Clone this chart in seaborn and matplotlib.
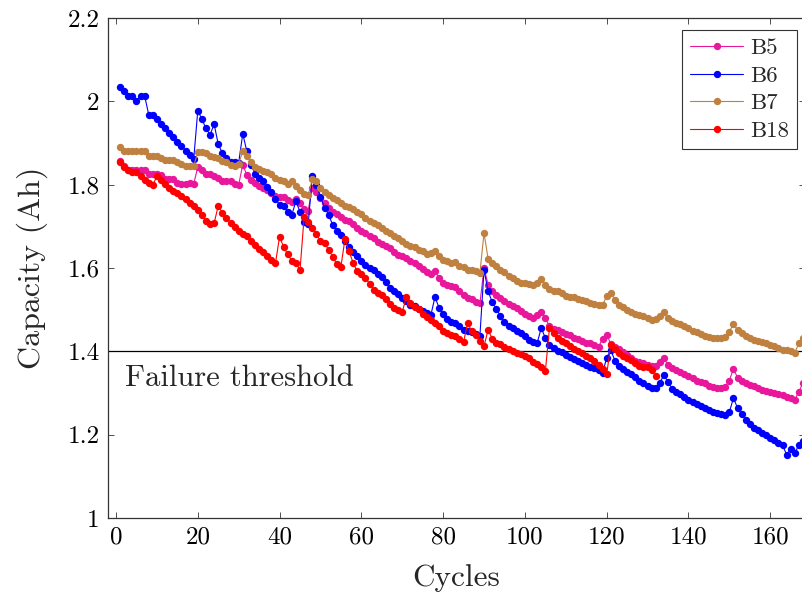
import numpy as np
import pandas as pd
import matplotlib
matplotlib.use("Agg")
import matplotlib.pyplot as plt
from matplotlib.ticker import FuncFormatter, FixedLocator
import seaborn as sns

# ---------------- data ----------------
b5 = [1.856, 1.846, 1.835, 1.835, 1.835, 1.835, 1.835, 1.825, 1.825, 1.825,
      1.824, 1.814, 1.814, 1.813, 1.803, 1.802, 1.802, 1.803, 1.802, 1.842,
      1.836, 1.825, 1.825, 1.820, 1.815, 1.810, 1.810, 1.808, 1.802, 1.800,
      1.848, 1.823, 1.812, 1.804, 1.797, 1.792, 1.788, 1.780, 1.773, 1.770,
      1.770, 1.763, 1.758, 1.765, 1.755, 1.742, 1.738, 1.792, 1.782, 1.768,
      1.756, 1.745, 1.734, 1.730, 1.722, 1.715, 1.712, 1.705, 1.697, 1.690,
      1.683, 1.676, 1.672, 1.663, 1.658, 1.652, 1.647, 1.639, 1.632, 1.629,
      1.623, 1.617, 1.611, 1.604, 1.597, 1.590, 1.585, 1.593, 1.576, 1.565,
      1.560, 1.557, 1.555, 1.546, 1.535, 1.529, 1.525, 1.518, 1.515, 1.600,
      1.560, 1.545, 1.535, 1.528, 1.520, 1.513, 1.508, 1.503, 1.497, 1.490,
      1.484, 1.480, 1.487, 1.494, 1.480, 1.460, 1.453, 1.452, 1.447, 1.442,
      1.439, 1.433, 1.430, 1.425, 1.421, 1.419, 1.415, 1.411, 1.430, 1.440,
      1.418, 1.410, 1.405, 1.398, 1.392, 1.385, 1.378, 1.374, 1.372, 1.368,
      1.364, 1.365, 1.374, 1.384, 1.367, 1.360, 1.355, 1.350, 1.345, 1.340,
      1.336, 1.330, 1.326, 1.323, 1.318, 1.315, 1.312, 1.312, 1.315, 1.330,
      1.358, 1.337, 1.328, 1.323, 1.320, 1.316, 1.312, 1.308, 1.305, 1.303,
      1.300, 1.298, 1.295, 1.291, 1.289, 1.284, 1.303, 1.324]

b6 = [2.035, 2.025, 2.013, 2.013, 2.000, 2.013, 2.013, 1.968, 1.968, 1.957,
      1.946, 1.936, 1.925, 1.914, 1.903, 1.893, 1.882, 1.871, 1.861, 1.978,
      1.957, 1.935, 1.920, 1.945, 1.897, 1.876, 1.865, 1.855, 1.855, 1.853,
      1.922, 1.880, 1.848, 1.826, 1.815, 1.810, 1.795, 1.782, 1.765, 1.752,
      1.748, 1.735, 1.728, 1.760, 1.735, 1.710, 1.705, 1.822, 1.800, 1.770,
      1.745, 1.728, 1.703, 1.690, 1.680, 1.665, 1.650, 1.638, 1.628, 1.618,
      1.607, 1.600, 1.595, 1.585, 1.578, 1.566, 1.553, 1.545, 1.538, 1.527,
      1.520, 1.512, 1.508, 1.502, 1.498, 1.492, 1.487, 1.530, 1.505, 1.490,
      1.478, 1.470, 1.468, 1.460, 1.452, 1.450, 1.446, 1.442, 1.438, 1.595,
      1.545, 1.518, 1.502, 1.485, 1.470, 1.462, 1.455, 1.450, 1.444, 1.437,
      1.428, 1.422, 1.420, 1.456, 1.432, 1.415, 1.408, 1.402, 1.398, 1.392,
      1.387, 1.382, 1.376, 1.372, 1.367, 1.363, 1.360, 1.355, 1.348, 1.385,
      1.403, 1.378, 1.365, 1.357, 1.350, 1.345, 1.338, 1.330, 1.325, 1.318,
      1.313, 1.312, 1.325, 1.343, 1.327, 1.310, 1.303, 1.298, 1.290, 1.284,
      1.279, 1.274, 1.270, 1.265, 1.260, 1.255, 1.252, 1.250, 1.247, 1.254,
      1.288, 1.264, 1.250, 1.236, 1.225, 1.217, 1.211, 1.205, 1.200, 1.193,
      1.187, 1.181, 1.175, 1.152, 1.165, 1.156, 1.175, 1.185]

b7 = [1.891, 1.880, 1.880, 1.880, 1.880, 1.880, 1.880, 1.870, 1.870, 1.870,
      1.865, 1.860, 1.859, 1.859, 1.855, 1.850, 1.845, 1.845, 1.845, 1.878,
      1.878, 1.876, 1.868, 1.867, 1.864, 1.858, 1.855, 1.848, 1.845, 1.850,
      1.880, 1.870, 1.855, 1.843, 1.838, 1.833, 1.830, 1.825, 1.816, 1.812,
      1.808, 1.802, 1.810, 1.797, 1.787, 1.778, 1.775, 1.813, 1.808, 1.792,
      1.783, 1.775, 1.768, 1.763, 1.756, 1.750, 1.747, 1.742, 1.735, 1.729,
      1.720, 1.713, 1.707, 1.703, 1.697, 1.690, 1.683, 1.678, 1.672, 1.665,
      1.658, 1.654, 1.650, 1.644, 1.640, 1.633, 1.636, 1.641, 1.628, 1.620,
      1.616, 1.612, 1.614, 1.606, 1.602, 1.596, 1.595, 1.592, 1.589, 1.684,
      1.622, 1.612, 1.605, 1.596, 1.590, 1.581, 1.576, 1.570, 1.565, 1.564,
      1.561, 1.559, 1.565, 1.574, 1.560, 1.549, 1.546, 1.545, 1.540, 1.534,
      1.530, 1.530, 1.525, 1.523, 1.521, 1.517, 1.513, 1.511, 1.512, 1.532,
      1.540, 1.524, 1.512, 1.506, 1.500, 1.495, 1.490, 1.487, 1.484, 1.480,
      1.476, 1.478, 1.485, 1.494, 1.480, 1.472, 1.469, 1.466, 1.460, 1.455,
      1.450, 1.446, 1.441, 1.437, 1.434, 1.432, 1.432, 1.432, 1.435, 1.447,
      1.466, 1.451, 1.445, 1.438, 1.433, 1.428, 1.426, 1.423, 1.419, 1.415,
      1.412, 1.408, 1.404, 1.403, 1.401, 1.396, 1.420, 1.433]

b18 = [1.855, 1.843, 1.835, 1.830, 1.830, 1.821, 1.812, 1.805, 1.800, 1.820,
       1.811, 1.802, 1.792, 1.785, 1.779, 1.772, 1.765, 1.756, 1.748, 1.740,
       1.728, 1.712, 1.705, 1.708, 1.749, 1.732, 1.720, 1.709, 1.698, 1.688,
       1.682, 1.676, 1.666, 1.656, 1.646, 1.638, 1.630, 1.620, 1.612, 1.675,
       1.650, 1.633, 1.617, 1.612, 1.595, 1.722, 1.710, 1.696, 1.682, 1.664,
       1.660, 1.644, 1.627, 1.610, 1.603, 1.670, 1.640, 1.612, 1.592, 1.585,
       1.577, 1.562, 1.548, 1.540, 1.535, 1.525, 1.513, 1.505, 1.500, 1.495,
       1.530, 1.517, 1.506, 1.501, 1.490, 1.482, 1.476, 1.468, 1.460, 1.450,
       1.445, 1.440, 1.437, 1.430, 1.422, 1.468, 1.448, 1.440, 1.425, 1.412,
       1.452, 1.430, 1.420, 1.417, 1.410, 1.405, 1.400, 1.396, 1.393, 1.388,
       1.383, 1.375, 1.370, 1.362, 1.352, 1.455, 1.443, 1.432, 1.425, 1.420,
       1.412, 1.405, 1.400, 1.395, 1.390, 1.385, 1.378, 1.368, 1.357, 1.345,
       1.415, 1.405, 1.396, 1.390, 1.385, 1.380, 1.372, 1.366, 1.363, 1.362,
       1.355, 1.340]

series_names = ["B5", "B6", "B7", "B18"]
series_values = [b5, b6, b7, b18]
x_ticks = [0, 20, 40, 60, 80, 100, 120, 140, 160]
y_ticks = [1.0, 1.2, 1.4, 1.6, 1.8, 2.0, 2.2]
threshold = 1.4
threshold_label = "Failure threshold"
x_label = "Cycles"
y_label = "Capacity (Ah)"

colors = {"B5": "#E8179B", "B6": "#0000FF", "B7": "#BF8040", "B18": "#FF0000"}

frames = []
for name, vals in zip(series_names, series_values):
    frames.append(pd.DataFrame({"cycle": np.arange(1, len(vals) + 1),
                                "capacity": vals, "battery": name}))
df = pd.concat(frames, ignore_index=True)

# ---------------- style ----------------
sns.set_style("white")
plt.rcParams["font.family"] = ["cmr10", "DejaVu Serif"]
plt.rcParams["mathtext.fontset"] = "cm"
plt.rcParams["axes.formatter.use_mathtext"] = True

fig = plt.figure(figsize=(8.03, 5.94), dpi=100)
ax = fig.add_axes([108 / 803, 1 - 518 / 594, (805 - 108) / 803, (518 - 18) / 594])

sns.lineplot(data=df, x="cycle", y="capacity", hue="battery",
             hue_order=series_names, palette=colors, marker="o",
             markersize=5.3, markeredgewidth=0, linewidth=0.8,
             ax=ax, legend=True)

ax.axhline(threshold, color="black", linewidth=0.9, zorder=1)
ax.text(2.2, 1.368, threshold_label, fontsize=22, va="top", ha="left")

ax.set_xlim(-1.96, 168.5)
ax.set_ylim(1.0, 2.2)
ax.xaxis.set_major_locator(FixedLocator(x_ticks))
ax.yaxis.set_major_locator(FixedLocator(y_ticks))
ax.yaxis.set_major_formatter(FuncFormatter(lambda v, p: f"{v:g}"))
ax.xaxis.set_major_formatter(FuncFormatter(lambda v, p: f"{v:g}"))
ax.tick_params(direction="in", length=4.5, width=0.6, colors="#333333",
               labelcolor="black", labelsize=18, top=True, right=True,
               bottom=True, left=True, pad=6)
for s in ax.spines.values():
    s.set_color("#333333")
    s.set_linewidth(0.9)

ax.set_xlabel(x_label, fontsize=22.5, labelpad=11)
ax.set_ylabel(y_label, fontsize=23, labelpad=14)

handles, labels = ax.get_legend_handles_labels()
leg = ax.legend(handles, labels, loc="upper right",
                bbox_to_anchor=((797 - 108) / (805 - 108), (518 - 30) / 500),
                frameon=True, fancybox=False, edgecolor="black",
                fontsize=16.5, handlelength=2.3, handletextpad=0.3,
                borderpad=0.35, labelspacing=0.33, borderaxespad=0)
leg.get_frame().set_linewidth(0.8)

fig.savefig("out.png", dpi=100)
